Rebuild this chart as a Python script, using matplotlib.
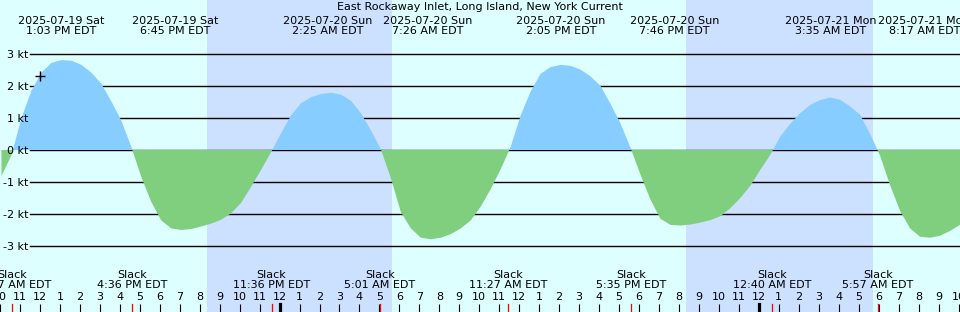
import numpy as np
import matplotlib
matplotlib.use("Agg")
import matplotlib.pyplot as plt
import matplotlib.transforms as mtransforms

plt.rcParams['font.family'] = ['DejaVu Sans']

# ---------------- data ----------------
title = "East Rockaway Inlet, Long Island, New York Current"

# current speed (kt) sampled every 30 min, hours relative to 2025-07-20 00:00 EDT
curve_start_hour = -13.925
curve_step_hour = 0.5
current_kt = [
    -0.81, -0.16, 1.00, 1.85, 2.42, 2.72, 2.81, 2.79, 2.66, 2.42,
    2.07, 1.52, 0.92, 0.10, -0.84, -1.62, -2.20, -2.45, -2.50, -2.47,
    -2.39, -2.30, -2.18, -1.98, -1.65, -1.15, -0.62, -0.07, 0.52, 1.08,
    1.46, 1.65, 1.75, 1.79, 1.73, 1.54, 1.15, 0.62, 0.02, -0.88,
    -1.94, -2.45, -2.74, -2.79, -2.74, -2.63, -2.45, -2.20, -1.77, -1.22,
    -0.60, 0.10, 1.08, 1.83, 2.38, 2.59, 2.66, 2.63, 2.51, 2.30,
    2.00, 1.44, 0.83, 0.07, -0.77, -1.55, -2.15, -2.34, -2.36, -2.33,
    -2.27, -2.19, -2.07, -1.82, -1.50, -1.12, -0.62, -0.15, 0.42, 0.82,
    1.15, 1.41, 1.56, 1.64, 1.57, 1.36, 1.10, 0.50, -0.18, -1.10,
    -1.90, -2.45, -2.71, -2.74, -2.68, -2.53, -2.34,
]

max_hours = [-10.95, -5.25, 2.417, 7.433, 14.083, 19.767, 27.583, 32.283]
max_labels = [
    "2025-07-19 Sat\n1:03 PM EDT",
    "2025-07-19 Sat\n6:45 PM EDT",
    "2025-07-20 Sun\n2:25 AM EDT",
    "2025-07-20 Sun\n7:26 AM EDT",
    "2025-07-20 Sun\n2:05 PM EDT",
    "2025-07-20 Sun\n7:46 PM EDT",
    "2025-07-21 Mon\n3:35 AM EDT",
    "2025-07-21 Mon\n8:17 AM EDT",
]

slack_hours = [-13.383, -7.4, -0.4, 5.017, 11.45, 17.583, 24.667, 29.95]
slack_labels = [
    "Slack\n10:37 AM EDT",
    "Slack\n4:36 PM EDT",
    "Slack\n11:36 PM EDT",
    "Slack\n5:01 AM EDT",
    "Slack\n11:27 AM EDT",
    "Slack\n5:35 PM EDT",
    "Slack\n12:40 AM EDT",
    "Slack\n5:57 AM EDT",
]

night_start_hours = [-3.625, 20.375]
night_end_hours = [5.64, 29.72]
midnight_hours = [0, 24]

kt_levels = [3, 2, 1, 0, -1, -2, -3]
kt_labels = ["3 kt", "2 kt", "1 kt", "0 kt", "-1 kt", "-2 kt", "-3 kt"]

hour_ticks = list(range(-14, 35))
hour_labels = [str((h % 24) % 12 or 12) for h in hour_ticks]

cursor_hour = -12.01
cursor_kt = 2.31

# ---------------- style ----------------
W, H = 960, 312
day_color = "#ddffff"
night_color = "#cce0ff"
flood_color = "#87cdff"
ebb_color = "#7fcf7f"

fig = plt.figure(figsize=(W / 100, H / 100), dpi=100)
ax = fig.add_axes([0, 0, 1, 1])
ax.set_facecolor(day_color)
fig.patch.set_facecolor(day_color)

x0 = curve_start_hour
ax.set_xlim(x0, x0 + W / 20.0)
ax.set_ylim((150 - H) / 32.0, 150 / 32.0)
for s in ax.spines.values():
    s.set_visible(False)

t = curve_start_hour + curve_step_hour * np.arange(len(current_kt))
v = np.array(current_kt)

for a, b in zip(night_start_hours, night_end_hours):
    ax.axvspan(a, b, color=night_color, lw=0, zorder=0)

for lv in kt_levels:
    ax.axhline(lv, xmin=30 / W, xmax=1, color="black", lw=1.0, zorder=1)

ax.fill_between(t, v, 0, where=v >= 0, interpolate=True, color=flood_color, lw=0, zorder=2)
ax.fill_between(t, v, 0, where=v <= 0, interpolate=True, color=ebb_color, lw=0, zorder=2)

ax.plot([cursor_hour], [cursor_kt], marker="+", ms=7.5, mew=1.0, color="black", zorder=4)

# y labels
ax.set_yticks(kt_levels)
ax.set_yticklabels(kt_labels)
ax.tick_params(axis="y", length=0, pad=-20.5, labelsize=8)

# hour ticks
ax.set_xticks(hour_ticks)
ax.set_xticklabels(hour_labels)
ax.tick_params(axis="x", direction="in", length=5.8, width=0.8, color="black",
               pad=-14.5, labelsize=8)
ax.set_axisbelow(False)

for m in midnight_hours:
    ax.axvline(m, ymin=0, ymax=8 / H, color="black", lw=2.3, zorder=5)
for s in slack_hours:
    ax.axvline(s, ymin=0, ymax=8 / H, color="red", lw=0.9, zorder=5)

trans = mtransforms.blended_transform_factory(ax.transData, ax.transAxes)
for h, lab in zip(max_hours, max_labels):
    ax.text(h, 1 - 26 / H, lab, transform=trans, ha="center", va="center",
            fontsize=8, linespacing=1.0, zorder=6)
for h, lab in zip(slack_hours, slack_labels):
    ax.text(h, 1 - 279.5 / H, lab, transform=trans, ha="center", va="center",
            fontsize=8, linespacing=1.0, zorder=6)

ax.text(0.5, 1 - 6.5 / H, title, transform=ax.transAxes, ha="center", va="center",
        fontsize=8, zorder=6)

fig.savefig("out.png", dpi=100, facecolor=day_color)
